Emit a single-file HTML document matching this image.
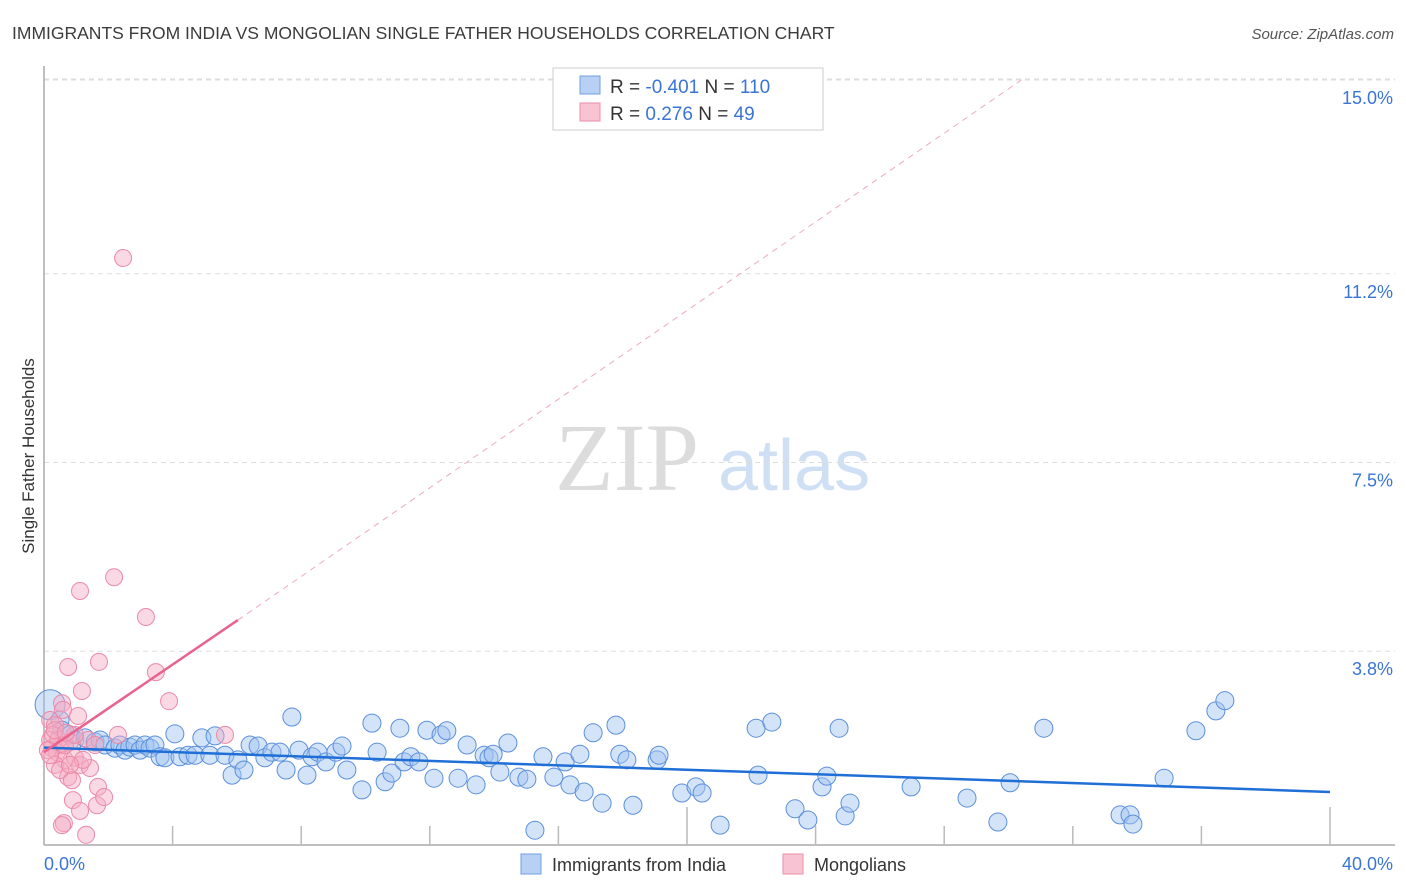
<!DOCTYPE html>
<html><head><meta charset="utf-8"><style>
body{margin:0;background:#fff;font-family:"Liberation Sans",sans-serif;}
svg{display:block}
</style></head><body>
<svg width="1406" height="892">
<text x="12" y="39" font-size="17.5" fill="#3c3c3c">IMMIGRANTS FROM INDIA VS MONGOLIAN SINGLE FATHER HOUSEHOLDS CORRELATION CHART</text>
<text x="1394" y="39" font-size="15" fill="#555" font-style="italic" text-anchor="end">Source: ZipAtlas.com</text>
<g>
<text x="555" y="490" font-size="96" font-family="Liberation Serif,serif" fill="#dcdcdc">ZIP</text>
<text x="718" y="490" font-size="72" fill="#cfe0f5">atlas</text>
</g>
<g id="grid"></g>
<g id="axes"></g>
<text transform="translate(34,456) rotate(-90)" font-size="17" fill="#333" text-anchor="middle">Single Father Households</text>
<g id="pts"></g>
<g id="trend"></g>
<g>
<rect x="553" y="68" width="270" height="62" fill="#fff" stroke="#ccc"/>
<rect x="580" y="76" width="20" height="18" fill="#b7d0f3" stroke="#6f9fe0"/>
<rect x="580" y="103" width="20" height="18" fill="#f8c4d3" stroke="#ec8eaa"/>
<text x="610" y="93" font-size="19" fill="#333">R = <tspan fill="#3a75d6">-0.401</tspan>   N = <tspan fill="#3a75d6">110</tspan></text>
<text x="610" y="120" font-size="19" fill="#333">R =  <tspan fill="#3a75d6"> 0.276</tspan>   N =  <tspan fill="#3a75d6"> 49</tspan></text>
</g>
<g>
<rect x="521" y="854" width="20" height="20" fill="#b7d0f3" stroke="#6f9fe0"/>
<text x="552" y="871" font-size="18" fill="#333">Immigrants from India</text>
<rect x="783" y="854" width="20" height="20" fill="#f8c4d3" stroke="#ec8eaa"/>
<text x="814" y="871" font-size="18" fill="#333">Mongolians</text>
</g>
</svg>
<script>
const yTicks=[3.8,7.5,11.2,15.0];
const yTickLabels=["3.8%","7.5%","11.2%","15.0%"];
const xTicks=[4,8,12,16,20,24,28,32,36,40];
const xTickLabels=["0.0%","40.0%"];
const indiaX=[0.19,0.5,0.56,0.81,0.96,1.28,1.59,1.74,1.9,2.21,2.36,2.52,2.67,2.83,2.99,3.14,3.3,3.45,3.61,3.76,4.07,4.23,4.48,4.7,4.91,5.16,5.32,5.63,5.85,6.03,6.22,6.41,6.66,6.87,7.09,7.34,7.53,7.71,7.93,8.18,8.34,8.52,8.77,9.08,9.27,9.42,9.89,10.2,10.36,10.61,10.82,11.07,11.2,11.41,11.66,11.91,12.13,12.35,12.53,12.88,13.16,13.44,13.69,13.84,13.97,14.18,14.43,14.77,15.02,15.27,15.52,15.86,16.21,16.36,16.67,16.8,17.08,17.36,17.79,17.91,18.13,18.32,19.07,19.13,19.84,20.28,20.47,21.03,22.15,22.21,22.64,23.36,23.76,24.2,24.35,24.73,24.92,25.07,26.97,28.71,29.67,30.05,31.1,33.47,33.78,33.87,34.84,35.83,36.45,36.73];
const indiaY=[2.75,2.45,2.25,2.16,2.06,2.1,2.02,2.06,1.96,1.9,1.96,1.86,1.92,1.96,1.86,1.96,1.9,1.96,1.73,1.71,2.18,1.73,1.76,1.76,2.1,1.76,2.14,1.76,1.37,1.67,1.47,1.96,1.94,1.71,1.82,1.82,1.47,2.51,1.86,1.37,1.73,1.82,1.63,1.82,1.94,1.47,1.08,2.39,1.82,1.24,1.41,2.29,1.63,1.73,1.63,2.25,1.31,2.16,2.24,1.31,1.96,1.18,1.76,1.71,1.78,1.43,2.0,1.33,1.29,0.29,1.73,1.33,1.63,1.18,1.78,1.04,2.2,0.82,2.35,1.78,1.67,0.78,1.67,1.76,1.02,1.14,1.02,0.39,2.29,1.37,2.41,0.71,0.49,1.14,1.35,2.29,0.57,0.82,1.14,0.92,0.45,1.22,2.29,0.59,0.59,0.41,1.31,2.24,2.63,2.83];
const mongX=[2.46,2.18,1.12,3.17,1.71,3.48,0.75,1.18,3.89,0.56,0.59,1.06,2.3,0.19,0.34,0.5,0.25,0.4,0.81,0.65,0.96,1.12,1.43,0.34,0.75,0.87,1.68,0.9,1.65,1.87,1.12,0.62,0.56,1.31,5.63,0.19,0.28,0.44,0.65,0.12,0.19,0.5,1.37,1.59,0.96,0.34,1.21,0.81,0.68];
const mongY=[11.51,5.25,4.98,4.47,3.59,3.39,3.49,3.02,2.82,2.78,2.65,2.53,2.16,2.45,2.35,1.96,1.9,1.82,2.02,1.67,1.71,1.57,1.51,1.57,1.33,1.27,1.14,0.88,0.78,0.94,0.67,0.43,0.39,0.2,2.16,2.06,2.16,2.06,1.96,1.86,1.76,1.47,2.06,1.96,2.16,2.25,1.67,1.57,2.2];
const indiaTrend=[0,1.91,40,1.04];
const mongTrend=[0,1.82,6.03,4.41,30.4,15.0];
const X=v=>44+v*32.15, Y=v=>845-v*51.0;
const NS="http://www.w3.org/2000/svg";
function mk(p,t,a){const e=document.createElementNS(NS,t);for(const k in a)e.setAttribute(k,a[k]);p.appendChild(e);return e;}
const g=document.getElementById('grid');
yTicks.forEach((v,i)=>{
 const l=mk(g,'line',{x1:44,x2:1395,y1:Y(v),y2:Y(v),stroke:'#ddd','stroke-dasharray':'5,4'});
 
 
 const t=mk(g,'text',{x:1393,y:Y(v)+24,'font-size':18,fill:'#3a75d6','text-anchor':'end'});
 t.textContent=yTickLabels[i];
 
 
});
mk(g,'line',{x1:44,x2:1395,y1:79,y2:79,stroke:'#ddd','stroke-dasharray':'5,4'});
const ax=document.getElementById('axes');
const a1=mk(ax,'line',{x1:44,x2:44,y1:66,y2:845,stroke:'#aaa','stroke-width':1.5});


const a2=mk(ax,'line',{x1:44,x2:1395,y1:845,y2:845,stroke:'#aaa','stroke-width':1.5});


xTicks.forEach(v=>{
 const t=mk(ax,'line',{x1:X(v),x2:X(v),y1:(v==40||v==20)?807:826,y2:845,stroke:'#bbb','stroke-width':1.5});
 
 
});
[[0,'start',44],[40,'end',1393]].forEach((d,i)=>{
 const t=mk(ax,'text',{x:d[2],y:870,'font-size':18,fill:'#3a75d6','text-anchor':d[1]});
 t.textContent=xTickLabels[i];
 
 
});
const pg=document.getElementById('pts');
indiaX.forEach((v,i)=>{
 const c=mk(pg,'circle',{cx:X(v),cy:Y(indiaY[i]),r:i==0?15:9,fill:'rgba(160,196,240,0.45)',stroke:'#5b8fdc','stroke-width':1});
 
 
});
mongX.forEach((v,i)=>{
 const c=mk(pg,'circle',{cx:X(v),cy:Y(mongY[i]),r:8.5,fill:'rgba(245,170,195,0.45)',stroke:'#eb8aa8','stroke-width':1});
 
 
});
const tg=document.getElementById('trend');
const t1=mk(tg,'line',{x1:X(indiaTrend[0]),y1:Y(indiaTrend[1]),x2:X(indiaTrend[2]),y2:Y(indiaTrend[3]),stroke:'#1f6fd6','stroke-width':2.5});


const t2=mk(tg,'line',{x1:X(mongTrend[0]),y1:Y(mongTrend[1]),x2:X(mongTrend[2]),y2:Y(mongTrend[3]),stroke:'#e8638d','stroke-width':2.5});


const t3=mk(tg,'line',{x1:X(mongTrend[2]),y1:Y(mongTrend[3]),x2:X(mongTrend[4]),y2:Y(mongTrend[5]),stroke:'#eeaabf','stroke-width':1,'stroke-dasharray':'6,5'});


</script>
</body></html>
